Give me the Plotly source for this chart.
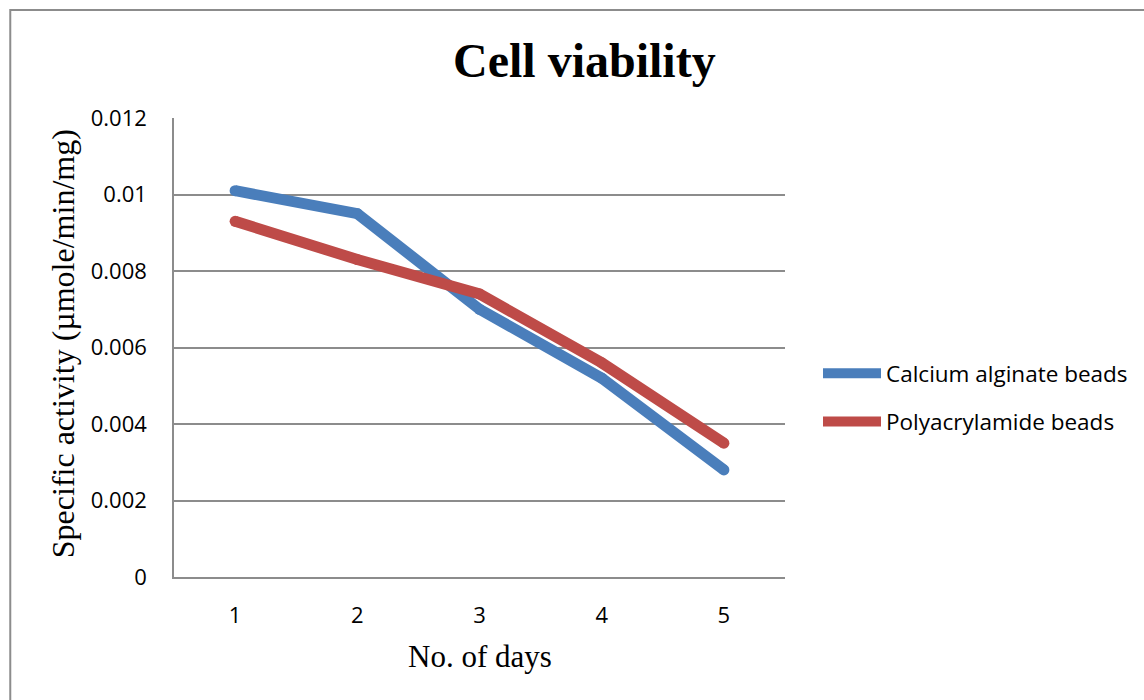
import plotly.graph_objects as go

days = ["1", "2", "3", "4", "5"]
calcium_alginate = [0.0101, 0.0095, 0.0070, 0.0052, 0.0028]
polyacrylamide = [0.0093, 0.0083, 0.0074, 0.0056, 0.0035]
y_ticks = [0, 0.002, 0.004, 0.006, 0.008, 0.01, 0.012]
y_tick_text = ["0", "0.002", "0.004", "0.006", "0.008", "0.01", "0.012"]

W, H = 1144, 700
L, R, T, B = 174, 786, 118, 577

def px(x):
    return (x - L) / (R - L)

def py(y):
    return (B - y) / (B - T)

series = [
    ("Calcium alginate beads", calcium_alginate, "#4A7EBB"),
    ("Polyacrylamide beads", polyacrylamide, "#BE4B48"),
]

fig = go.Figure()
for i, (name, vals, color) in enumerate(series):
    fig.add_trace(go.Scatter(x=days, y=vals, mode="lines", name=name, legendgroup=f"g{i}",
                             line=dict(color=color, width=11)))
    # round caps / joins
    fig.add_trace(go.Scatter(x=days, y=vals, mode="markers", showlegend=False, hoverinfo="skip",
                             legendgroup=f"g{i}",
                             marker=dict(color=color, size=11, line=dict(width=0))))

sans = "Open Sans, Lato, sans-serif"
tick_font = dict(family=sans, size=22, color="#000000")
serif = "Liberation Serif, Times New Roman, serif"

fig.update_layout(
    width=W, height=H,
    margin=dict(l=L, r=W - R, t=T, b=H - B),
    paper_bgcolor="white", plot_bgcolor="white",
    showlegend=True,
    legend=dict(x=px(818), y=py(352), xanchor="left", yanchor="top",
                font=dict(family=sans, size=22.5, color="#000000"),
                tracegroupgap=16, itemwidth=58, bgcolor="rgba(0,0,0,0)"),
    xaxis=dict(type="category", range=[-0.5, 4.5], showgrid=False, showline=True,
               linecolor="#8c8c8c", linewidth=1.5, ticks="", tickfont=tick_font, ticklabelstandoff=18,
               zeroline=False, fixedrange=True),
    yaxis=dict(range=[0, 0.012], tickvals=y_ticks, ticktext=y_tick_text, showgrid=True,
               gridcolor="#8c8c8c", gridwidth=1.5, showline=True, linecolor="#8c8c8c", linewidth=1.5,
               ticks="", tickfont=tick_font, ticklabelstandoff=21, zeroline=False, fixedrange=True),
    annotations=[
        dict(text="<b>Cell viability</b>", x=px(585), y=py(60), xref="paper", yref="paper",
             showarrow=False, font=dict(family=serif, size=48, color="#000000"),
             xanchor="center", yanchor="middle"),
        dict(text="Specific activity (µmole/min/mg)", x=px(63), y=py(344), xref="paper", yref="paper",
             showarrow=False, textangle=-90, font=dict(family=serif, size=32, color="#000000"),
             xanchor="center", yanchor="middle"),
        dict(text="No. of days", x=px(480), y=py(656), xref="paper", yref="paper",
             showarrow=False, font=dict(family=serif, size=31, color="#000000"),
             xanchor="center", yanchor="middle"),
    ],
    shapes=[
        dict(type="rect", xref="paper", yref="paper", x0=px(10), x1=px(1160), y0=py(720), y1=py(10),
             line=dict(color="#8c8c8c", width=2), fillcolor="rgba(0,0,0,0)", layer="below"),
    ],
)

fig.write_html("out.html")
